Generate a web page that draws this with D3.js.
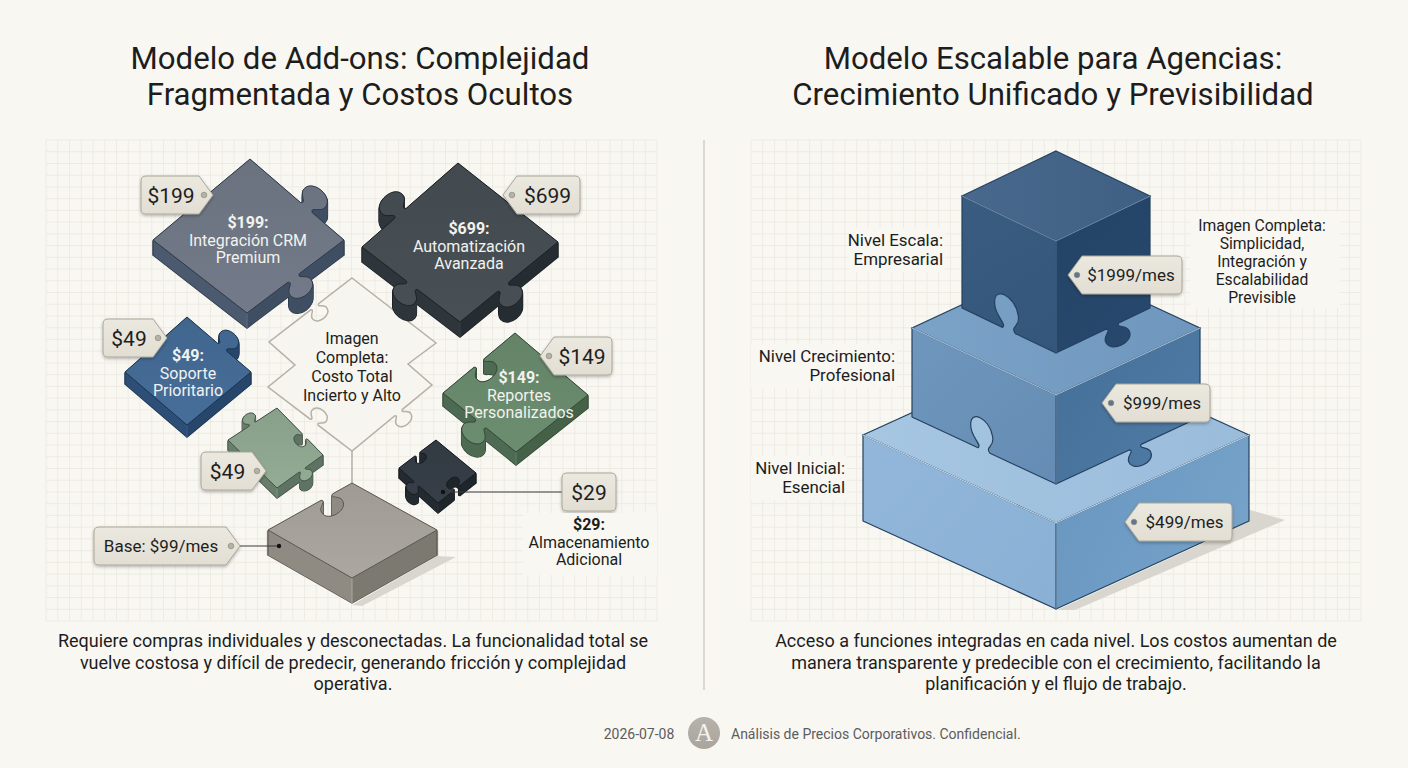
<!DOCTYPE html>
<html>
<head>
<meta charset="utf-8">
<script src="https://cdn.jsdelivr.net/npm/d3@7"></script>
<style>
  html, body { margin: 0; padding: 0; background: #f8f7f2; }
  svg { display: block; font-family: Roboto, "Noto Sans", sans-serif; }
</style>
</head>
<body>
<svg id="chart" width="1408" height="768"></svg>
<script>
// values
var addonPrices = [199, 699, 49, 149, 49, 29];
var addonNames = [["Integración CRM", "Premium"], ["Automatización", "Avanzada"], ["Soporte", "Prioritario"], ["Reportes", "Personalizados"], [], ["Almacenamiento", "Adicional"]];
var basePrice = 99;
var tierPrices = [499, 999, 1999];
var tierNames = [["Nivel Inicial:", "Esencial"], ["Nivel Crecimiento:", "Profesional"], ["Nivel Escala:", "Empresarial"]];
var titleLeft = ["Modelo de Add-ons: Complejidad", "Fragmentada y Costos Ocultos"];
var titleRight = ["Modelo Escalable para Agencias:", "Crecimiento Unificado y Previsibilidad"];
var noteLeft = ["Requiere compras individuales y desconectadas. La funcionalidad total se", "vuelve costosa y difícil de predecir, generando fricción y complejidad", "operativa."];
var noteRight = ["Acceso a funciones integradas en cada nivel. Los costos aumentan de", "manera transparente y predecible con el crecimiento, facilitando la", "planificación y el flujo de trabajo."];
var wholeLeft = ["Imagen", "Completa:", "Costo Total", "Incierto y Alto"];
var wholeRight = ["Imagen Completa:", "Simplicidad,", "Integración y", "Escalabilidad", "Previsible"];
var footerDate = "2026-07-08";
var footerText = "Análisis de Precios Corporativos. Confidencial.";

// layout of the puzzle pieces (same order as addonPrices)
var pieces = [
  {pts: [[250,159],[344,240],[247,313],[153,240]], thick: 15, top: "#6f7785", left: "#4b5a6f", right: "#3f4e63", knobs: [[0,.6,14,1],[1,.52,13,1]], tc: [248,223]},
  {pts: [[458,163],[558,242],[460,322],[362,247]], thick: 15, top: "#454d52", left: "#2e363b", right: "#262d32", knobs: [[1,.56,13,1],[2,.49,13,1],[3,.4,14,1]], tc: [469,229]},
  {pts: [[187,317],[251,372],[187,425],[125,372]], thick: 12, top: "#446a94", left: "#2d4e76", right: "#27466c", knobs: [[0,.55,11,1]], tc: [188,356]},
  {pts: [[515,333],[588,395],[516,452],[443,393]], thick: 13, top: "#68896c", left: "#4d6b53", right: "#456249", knobs: [[2,.48,13,1],[3,.5,12,-1]], tc: [519,378]},
  {pts: [[277,408],[323,455],[277,488],[228,440]], thick: 10, top: "#8ea68f", left: "#687d6c", right: "#5e7363", knobs: [[0,.6,7,-1],[1,.45,7,1],[3,.5,7,1]]},
  {pts: [[436,440],[476,473],[438,503],[399,468]], thick: 10, top: "#343d45", left: "#232a31", right: "#1e252b", knobs: [[1,.5,7,-1],[2,.55,7,1],[3,.5,6,-1]]}
];
var basePiece = {pts: [[352,483],[437,530],[352,578],[268,530]], thick: 25, top: "#a6a29a", left: "#8f8b83", right: "#7c7971", knobs: [[3,.7,12,-1]]};
var wholePiece = {pts: [[352,278],[436,343],[408,364],[432,385],[352,451],[268,387],[295,365],[269,342]], knobs: [[3,.42,9,1],[4,.45,9,-1],[7,.55,9,-1]]};

// price tags: x0/x1 outer edges, y centre, side of the point
var addonTags = [
  {x0: 141, x1: 213, y: 195, point: "right"},
  {x0: 503, x1: 580, y: 195, point: "left"},
  {x0: 103, x1: 167, y: 338, point: "right"},
  {x0: 540, x1: 612, y: 356, point: "left"},
  {x0: 201, x1: 266, y: 471, point: "right"},
  {x0: 562, x1: 616, y: 492, point: null}
];
var baseTag = {x0: 94, x1: 240, y: 546, point: "right"};
var tierTags = [
  {x0: 1125, x1: 1232, y: 522, point: "left"},
  {x0: 1102, x1: 1210, y: 403, point: "left"},
  {x0: 1068, x1: 1182, y: 275, point: "left"}
];

// isometric tiers, bottom one first
var tiers = [
  {cx: 1056, halfW: 193, top: 435, front: 523, foot: 609, topC: ["#a6c6e2","#9abcdb"], leftC: ["#92b7da","#8ab0d5"], rightC: ["#78a4ca","#6a98c1"], line: "#c4daec"},
  {cx: 1056, halfW: 144, top: 328, front: 395, foot: 484, topC: ["#7ba3c8","#6f97bd"], leftC: ["#6f96bc","#658cb4"], rightC: ["#4f7ca6","#46719b"], line: "#a7c3dc"},
  {cx: 1056, halfW: 94, top: 196, front: 241, foot: 353, topC: ["#48698d","#3f6083"], leftC: ["#3a5c81","#35567b"], rightC: ["#28496e","#244467"], line: "#6c8ba9"}
];
var tierKnobs = [null, {lt: .5, rt: .55, r: 12}, {lt: .5, rt: .6, r: 13}];
var tierLabelEnd = [845, 895, 943];
var tierLabelY = [474, 362, 246];

var svg = d3.select("#chart");
var defs = svg.append("defs");

var shadow = defs.append("filter").attr("id", "tagShadow")
  .attr("x", "-20%").attr("y", "-30%").attr("width", "140%").attr("height", "170%");
shadow.append("feDropShadow").attr("dx", 0).attr("dy", 1.5).attr("stdDeviation", 1.5)
  .attr("flood-color", "#000").attr("flood-opacity", .28);

var gradCount = 0;
function gradient(x1, y1, x2, y2, stops) {
  var id = "g" + (gradCount++);
  var g = defs.append("linearGradient").attr("id", id).attr("gradientUnits", "userSpaceOnUse")
    .attr("x1", x1).attr("y1", y1).attr("x2", x2).attr("y2", y2);
  stops.forEach(function(s){ g.append("stop").attr("offset", s[0]).attr("stop-color", s[1]); });
  return "url(#" + id + ")";
}

// grid behind each panel
function drawGrid(x0, x1, y0, y1) {
  var xScale = d3.scaleLinear().domain([0, 52]).range([x0, x1]);
  var yScale = d3.scaleLinear().domain([0, 41]).range([y0, y1]);
  var g = svg.append("g").attr("stroke", "#eeebe3").attr("stroke-width", 1);
  g.selectAll(".v").data(d3.range(53)).join("line").attr("class", "v")
    .attr("x1", xScale).attr("x2", xScale).attr("y1", y0).attr("y2", y1);
  g.selectAll(".h").data(d3.range(42)).join("line").attr("class", "h")
    .attr("y1", yScale).attr("y2", yScale).attr("x1", x0).attr("x2", x1);
}

// adds one jigsaw knob to the path, on the edge a->b
// depth stretches the knob, normal replaces the edge normal when the tab leans
function addKnob(path, a, b, t, r, dir, depth, normal) {
  var dx = b[0] - a[0], dy = b[1] - a[1], len = Math.hypot(dx, dy);
  var ux = dx / len, uy = dy / len, nx = uy * dir, ny = -ux * dir;
  if (normal) { nx = normal[0]; ny = normal[1]; }
  var k = depth || 1;
  var ox = a[0] + dx * t, oy = a[1] + dy * t;
  function p(s, h) { return [ox + ux * s * r + nx * h * k * r, oy + uy * s * r + ny * h * k * r]; }
  function curve(c1, c2, e) { path.bezierCurveTo(c1[0], c1[1], c2[0], c2[1], e[0], e[1]); }
  var start = p(-.55, 0);
  path.lineTo(start[0], start[1]);
  curve(p(-.1, .25), p(-1.1, .4), p(-1, .95));
  curve(p(-.95, 1.85), p(.95, 1.85), p(1, .95));
  curve(p(1.1, .4), p(.1, .25), p(.55, 0));
}

function piecePath(piece, shift) {
  var path = d3.path();
  var pts = piece.pts.map(function(d){ return [d[0], d[1] + shift]; });
  path.moveTo(pts[0][0], pts[0][1]);
  pts.forEach(function(a, i) {
    var b = pts[(i + 1) % pts.length];
    piece.knobs.filter(function(k){ return k[0] === i; }).forEach(function(k) {
      addKnob(path, a, b, k[1], k[2], k[3]);
    });
    path.lineTo(b[0], b[1]);
  });
  path.closePath();
  return path.toString();
}

function drawPiece(piece) {
  var g = svg.append("g");
  var xs = piece.pts.map(function(d){ return d[0]; });
  var minX = d3.min(xs) - 20, maxX = d3.max(xs) + 20;
  var front = piece.pts[2];
  var split = (front[0] - minX) / (maxX - minX);
  var sideFill = gradient(minX, 0, maxX, 0, [[0, piece.left], [split, piece.left], [split, piece.right], [1, piece.right]]);
  var layers = d3.range(piece.thick, 0, -1);
  // silhouette first, the fills on top leave only the outline
  g.selectAll(".edge").data(layers).join("path").attr("class", "edge")
    .attr("d", function(d){ return piecePath(piece, d); })
    .attr("fill", "none").attr("stroke", d3.color(piece.right).darker(1)).attr("stroke-width", 1.4);
  g.selectAll(".side").data(layers).join("path").attr("class", "side")
    .attr("d", function(d){ return piecePath(piece, d); })
    .attr("fill", sideFill);
  g.append("line").attr("x1", front[0]).attr("x2", front[0]).attr("y1", front[1]).attr("y2", front[1] + piece.thick)
    .attr("stroke", d3.color(piece.left).brighter(.5)).attr("stroke-width", 1);
  var ys = piece.pts.map(function(d){ return d[1]; });
  g.append("path").attr("d", piecePath(piece, 0))
    .attr("fill", gradient(0, d3.min(ys), 0, d3.max(ys), [[0, d3.color(piece.top).darker(.12)], [1, d3.color(piece.top).brighter(.1)]]))
    .attr("stroke", d3.color(piece.right).darker(.9)).attr("stroke-width", 1);
}

function drawTag(tag) {
  var h = 38, r = 5, c = 13;
  var y0 = tag.y - h / 2, y1 = tag.y + h / 2;
  var path = d3.path();
  if (tag.point === "right") {
    path.moveTo(tag.x0 + r, y0);
    path.lineTo(tag.x1 - c - 1, y0);
    path.lineTo(tag.x1, tag.y);
    path.lineTo(tag.x1 - c - 1, y1);
    path.lineTo(tag.x0 + r, y1);
    path.quadraticCurveTo(tag.x0, y1, tag.x0, y1 - r);
    path.lineTo(tag.x0, y0 + r);
    path.quadraticCurveTo(tag.x0, y0, tag.x0 + r, y0);
  } else if (tag.point === "left") {
    path.moveTo(tag.x1 - r, y0);
    path.quadraticCurveTo(tag.x1, y0, tag.x1, y0 + r);
    path.lineTo(tag.x1, y1 - r);
    path.quadraticCurveTo(tag.x1, y1, tag.x1 - r, y1);
    path.lineTo(tag.x0 + c + 1, y1);
    path.lineTo(tag.x0, tag.y);
    path.lineTo(tag.x0 + c + 1, y0);
  } else {
    path.moveTo(tag.x0 + r, y0);
    path.lineTo(tag.x1 - r, y0);
    path.quadraticCurveTo(tag.x1, y0, tag.x1, y0 + r);
    path.lineTo(tag.x1, y1 - r);
    path.quadraticCurveTo(tag.x1, y1, tag.x1 - r, y1);
    path.lineTo(tag.x0 + r, y1);
    path.quadraticCurveTo(tag.x0, y1, tag.x0, y1 - r);
    path.lineTo(tag.x0, y0 + r);
    path.quadraticCurveTo(tag.x0, y0, tag.x0 + r, y0);
  }
  path.closePath();
  svg.append("path").attr("d", path.toString())
    .attr("fill", gradient(0, y0, 0, y1, [[0, "#ebe8df"], [1, "#e2ded3"]]))
    .attr("stroke", "#aaa698").attr("stroke-width", 1).attr("filter", "url(#tagShadow)").attr("stroke-linejoin", "round");
  if (tag.point) {
    svg.append("circle").attr("cx", tag.point === "right" ? tag.x1 - 9 : tag.x0 + 9).attr("cy", tag.y).attr("r", 2.8)
      .attr("fill", tag.dot || "#b5b2a8").attr("stroke", "#8d8a80").attr("stroke-width", .7);
  }
}

function tagText(tag, label, size) {
  var cx = tag.point === "right" ? (tag.x0 + tag.x1 - 12) / 2 : tag.point === "left" ? (tag.x0 + tag.x1 + 12) / 2 : (tag.x0 + tag.x1) / 2;
  svg.append("text").attr("x", cx).attr("y", tag.y).attr("dy", "0.36em")
    .attr("text-anchor", "middle").attr("font-size", size).attr("fill", "#1e1e1e").text(label);
}

// stacked centred / aligned lines, the first one can be bold
function lines(list, x, y, size, lh, opts) {
  opts = opts || {};
  var t = svg.append("text").attr("text-anchor", opts.anchor || "middle").attr("font-size", size).attr("fill", opts.fill || "#1d1d1d");
  list.forEach(function(line, i) {
    t.append("tspan").attr("x", x).attr("y", y + i * lh)
      .attr("font-weight", opts.boldFirst && i === 0 ? 700 : 400).text(line);
  });
}

function money(v) { return "$" + v; }

function drawTier(tier, knob) {
  var g = svg.append("g");
  var l = tier.cx - tier.halfW, r = tier.cx + tier.halfW;
  var rise = tier.front - tier.top;
  var footSide = tier.foot - rise;
  var back = tier.top - rise;
  var outline = "#24415f";
  var line = d3.line();

  g.append("path").attr("d", line([[tier.cx, back], [r, tier.top], [tier.cx, tier.front], [l, tier.top]]) + "Z")
    .attr("fill", gradient(l, 0, r, 0, [[0, tier.topC[0]], [1, tier.topC[1]]])).attr("stroke", outline).attr("stroke-width", 1.2);

  // left face, its lower edge carries a notch that rises almost straight up
  var leftPath = d3.path();
  leftPath.moveTo(l, tier.top);
  leftPath.lineTo(tier.cx, tier.front);
  leftPath.lineTo(tier.cx, tier.foot);
  if (knob) addKnob(leftPath, [tier.cx, tier.foot], [l, footSide], 1 - knob.lt, knob.r, -1, 1.7, [-.12, -.99]);
  leftPath.lineTo(l, footSide);
  leftPath.closePath();
  g.append("path").attr("d", leftPath.toString())
    .attr("fill", gradient(l, tier.top, tier.cx, tier.foot, [[0, tier.leftC[0]], [1, tier.leftC[1]]]))
    .attr("stroke", outline).attr("stroke-width", 1.2).attr("stroke-linejoin", "round");

  // right face, with a tab hanging from the lower edge
  var rightPath = d3.path();
  rightPath.moveTo(tier.cx, tier.front);
  rightPath.lineTo(r, tier.top);
  rightPath.lineTo(r, footSide);
  if (knob) addKnob(rightPath, [r, footSide], [tier.cx, tier.foot], 1 - knob.rt, knob.r, 1);
  rightPath.lineTo(tier.cx, tier.foot);
  rightPath.closePath();
  g.append("path").attr("d", rightPath.toString())
    .attr("fill", gradient(tier.cx, tier.front, r, tier.foot, [[0, tier.rightC[1]], [1, tier.rightC[0]]]))
    .attr("stroke", outline).attr("stroke-width", 1.2).attr("stroke-linejoin", "round");

  // pale highlight on the front edges
  g.append("path").attr("d", line([[l, tier.top], [tier.cx, tier.front], [r, tier.top]]))
    .attr("fill", "none").attr("stroke", tier.line).attr("stroke-width", 1.1);
  g.append("path").attr("d", line([[tier.cx, tier.front], [tier.cx, tier.foot]]))
    .attr("fill", "none").attr("stroke", tier.line).attr("stroke-width", .8).attr("opacity", .7);
}

// page
drawGrid(46, 657, 140, 621);
drawGrid(751, 1361, 140, 621);

svg.append("line").attr("x1", 704).attr("x2", 704).attr("y1", 140).attr("y2", 690)
  .attr("stroke", "#c8c5bd").attr("stroke-width", 1.2);

lines(titleLeft, 360, 69, 31.2, 35.5);
lines(titleRight, 1053, 69, 31.2, 35.5);
lines(noteLeft, 353, 647, 18, 21.5);
lines(noteRight, 1056, 647, 18, 21.5);

// left panel
svg.append("path").attr("d", d3.line()([[352,605],[437,556],[456,557],[362,606]])).attr("fill", "#d9d6cf");
svg.append("line").attr("x1", 352).attr("x2", 352).attr("y1", 451).attr("y2", 484)
  .attr("stroke", "#b5b1a6").attr("stroke-width", 1.5);

svg.append("path").attr("d", piecePath(wholePiece, 0))
  .attr("fill", "#f7f5ef").attr("stroke", "#b5b1a6").attr("stroke-width", 1.5);
lines(wholeLeft, 352, 344, 16, 19);

pieces.forEach(drawPiece);
drawPiece(basePiece);

// notes printed on the pieces
pieces.forEach(function(piece, i) {
  if (!piece.tc) return;
  lines([money(addonPrices[i]) + ":"].concat(addonNames[i]), piece.tc[0], piece.tc[1] + 5, 16, 17.5, {boldFirst: true, fill: "#f2f2ef"});
});

// leader lines
svg.append("line").attr("x1", 443).attr("x2", 562).attr("y1", 492).attr("y2", 492).attr("stroke", "#3a3a3a").attr("stroke-width", 1.1);
svg.append("circle").attr("cx", 443).attr("cy", 492).attr("r", 2.2).attr("fill", "#111");
svg.append("line").attr("x1", 240).attr("x2", 279).attr("y1", 546).attr("y2", 546).attr("stroke", "#3a3a3a").attr("stroke-width", 1.1);
svg.append("circle").attr("cx", 279).attr("cy", 546).attr("r", 2.2).attr("fill", "#111");

addonTags.forEach(function(tag, i) {
  drawTag(tag);
  tagText(tag, money(addonPrices[i]), 21);
});
drawTag(baseTag);
tagText(baseTag, "Base: " + money(basePrice) + "/mes", 17);

svg.append("rect").attr("x", 523).attr("y", 513).attr("width", 134).attr("height", 62).attr("fill", "#f8f7f2");
lines([money(addonPrices[5]) + ":"].concat(addonNames[5]), 589, 530, 16, 17.5, {boldFirst: true});

// right panel
svg.append("path").attr("d", d3.line()([[1057,610],[1232,530],[1233,505],[1285,520],[1075,610]])).attr("fill", "#d9d6cf");

tiers.forEach(function(tier, i) { drawTier(tier, tierKnobs[i]); });

tierTags.forEach(function(tag, i) {
  tag.dot = "#5f7690";
  drawTag(tag);
  tagText(tag, money(tierPrices[i]) + "/mes", 17);
});

tierNames.forEach(function(name, i) {
  var w = i === 1 ? 146 : 96;
  svg.append("rect").attr("x", tierLabelEnd[i] - w + 2).attr("y", tierLabelY[i] - 18).attr("width", w).attr("height", 44).attr("fill", "#f8f7f2");
  lines(name, tierLabelEnd[i], tierLabelY[i], 16.9, 19, {anchor: "end"});
});

svg.append("rect").attr("x", 1190).attr("y", 212).attr("width", 150).attr("height", 96).attr("fill", "#f8f7f2");
lines(wholeRight, 1262, 231, 15.7, 18);

// footer
lines([footerDate], 639, 739, 14, 0, {fill: "#5c5c5c"});
svg.append("circle").attr("cx", 704).attr("cy", 733).attr("r", 16)
  .attr("fill", gradient(0, 717, 0, 749, [[0, "#b7b3ac"], [1, "#a9a59d"]]));
svg.append("text").attr("x", 704).attr("y", 741).attr("text-anchor", "middle").attr("font-family", "'Liberation Serif', serif")
  .attr("font-size", 25).attr("fill", "#f4f2ed").text("A");
svg.append("text").attr("x", 731).attr("y", 739).attr("font-size", 14).attr("fill", "#5c5c5c").text(footerText);
</script>
</body>
</html>
